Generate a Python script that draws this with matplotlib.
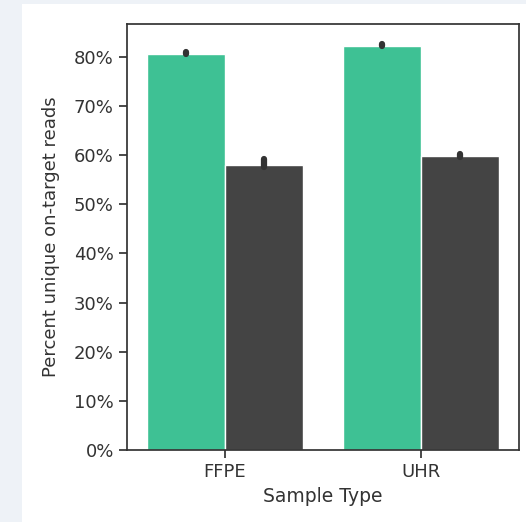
import matplotlib
matplotlib.use("Agg")
import matplotlib.pyplot as plt
import numpy as np
from matplotlib.ticker import PercentFormatter
from matplotlib.patches import Rectangle

plt.rcParams["font.family"] = ["DejaVu Sans"]

categories = ["FFPE", "UHR"]
series_names = ["A", "B"]
green_vals = [0.806, 0.823]
dark_vals = [0.580, 0.599]
green_ci_low = [0.805, 0.823]
green_ci_high = [0.811, 0.827]
dark_ci_low = [0.576, 0.597]
dark_ci_high = [0.593, 0.603]
colors = ["#3EC194", "#444444"]

fig = plt.figure(figsize=(5.26, 5.22), dpi=100)
fig.patch.set_facecolor("#eef2f7")
fig.patches.append(Rectangle((22/526, 0), 1 - 22/526, 1 - 4/522, transform=fig.transFigure,
                             facecolor="white", edgecolor="none", zorder=-10))

ax = fig.add_axes([127/526, 1 - 450/522, (519-127)/526, (450-24)/522])
ax.set_zorder(5)
x = np.arange(len(categories))
w = 0.4
vals_list = [green_vals, dark_vals]
lows = [green_ci_low, dark_ci_low]
highs = [green_ci_high, dark_ci_high]
for i in range(2):
    pos = x + (i - 0.5) * w
    ax.bar(pos, vals_list[i], width=w, color=colors[i], edgecolor="white", linewidth=1, zorder=2)
    v = np.array(vals_list[i])
    err = np.array([v - np.array(lows[i]), np.array(highs[i]) - v])
    cont = ax.errorbar(pos, v, yerr=err, fmt="none", ecolor="#333333", elinewidth=4.5,
                       capsize=0, zorder=3)
    for lc in cont[2]:
        lc.set_capstyle("round")

ax.set_xlim(-0.5, 1.5)
ax.set_ylim(0, 0.867)
ax.set_yticks(np.arange(0, 0.81, 0.1))
ax.yaxis.set_major_formatter(PercentFormatter(1.0, decimals=0))
ax.set_xticks(x)
ax.set_xticklabels(categories)
tc = "#333333"
for s in ax.spines.values():
    s.set_color(tc)
    s.set_linewidth(1.25)
ax.tick_params(axis="both", colors=tc, labelsize=13, length=6, width=1.25, labelcolor=tc)
ax.set_xlabel("Sample Type", fontsize=13.5, color=tc, labelpad=4)
ax.set_ylabel("Percent unique on-target reads", fontsize=13, color=tc, labelpad=10)
ax.set_facecolor("white")

fig.savefig("out.png", dpi=100, facecolor=fig.get_facecolor())
